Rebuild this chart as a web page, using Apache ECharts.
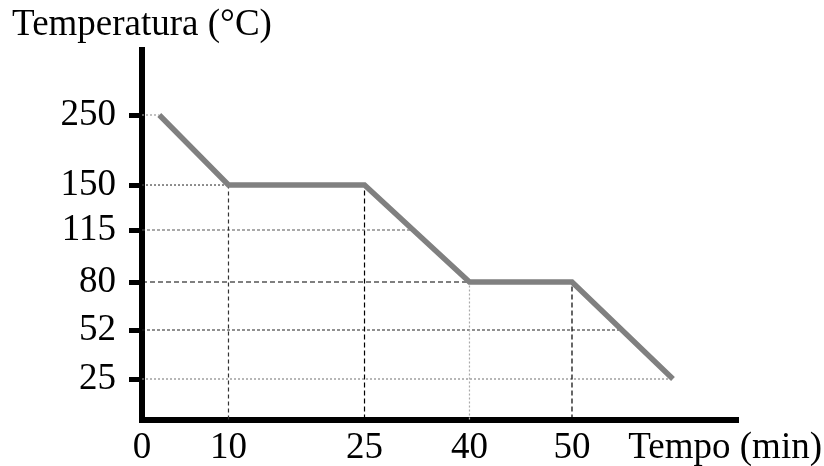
<!DOCTYPE html>
<html><head><meta charset="utf-8">
<script src="https://cdn.jsdelivr.net/npm/echarts@6/dist/echarts.min.js"></script>
<style>html,body{margin:0;padding:0;background:#fff}#c{width:824px;height:466px}</style>
</head><body><div id="c"></div>
<script>
// ---- data ----
const timeTicks = [0, 10, 25, 40, 50];
const tempTicks = [25, 52, 80, 115, 150, 250];
const curveTime = [2, 10, 25, 40, 50, 60];
const curveTemp = [250, 150, 150, 80, 80, 25];
const hGuideTemps = [250, 150, 115, 80, 52, 25];
const vGuideTimes = [10, 25, 40, 50];

// ---- schematic (piecewise) axis scales: value -> fraction of axis length ----
const timeScale = { domain: [0, 10, 25, 40, 50, 60], range: [0, 0.1456, 0.3746, 0.5513, 0.7239, 0.8939] };
const tempScale = { domain: [25, 52, 80, 115, 150, 250], range: [0.1096, 0.2422, 0.3721, 0.5129, 0.6346, 0.8241] };

// ---- styles ----
const hGuideStyles = [
  { color: '#999999', type: [2, 2] },
  { color: '#444444', type: [2, 2] },
  { color: '#555555', type: [3, 2] },
  { color: '#000000', type: [5, 3] },
  { color: '#222222', type: [3, 2] },
  { color: '#888888', type: [2, 2] }
];
const vGuideStyles = [
  { color: '#333333', type: [4, 3] },
  { color: '#000000', type: [5, 3] },
  { color: '#aaaaaa', type: [2, 2] },
  { color: '#000000', type: [5, 3] }
];
const FONT = 'Liberation Serif, Times New Roman, serif';
const FS = 37;

function piecewise(s, v) {
  const d = s.domain, r = s.range;
  let i = 0;
  while (i < d.length - 2 && v > d[i + 1]) i++;
  return r[i] + (v - d[i]) / (d[i + 1] - d[i]) * (r[i + 1] - r[i]);
}
const px = t => piecewise(timeScale, t);
const py = c => piecewise(tempScale, c);

const pts = curveTime.map((t, i) => [px(t), py(curveTemp[i])]);

function xOnCurve(y) {
  for (let i = 0; i < pts.length - 1; i++) {
    const a = pts[i], b = pts[i + 1];
    const lo = Math.min(a[1], b[1]) - 1e-9, hi = Math.max(a[1], b[1]) + 1e-9;
    if (y >= lo && y <= hi) {
      if (Math.abs(b[1] - a[1]) < 1e-9) return a[0];
      return a[0] + (y - a[1]) / (b[1] - a[1]) * (b[0] - a[0]);
    }
  }
  return pts[pts.length - 1][0];
}
function yOnCurve(x) {
  for (let i = 0; i < pts.length - 1; i++) {
    const a = pts[i], b = pts[i + 1];
    if (x >= a[0] - 1e-9 && x <= b[0] + 1e-9) {
      return a[1] + (x - a[0]) / (b[0] - a[0]) * (b[1] - a[1]);
    }
  }
  return pts[pts.length - 1][1];
}
function labelFor(ticks, fn, v) {
  let best = ticks[0], bd = Infinity;
  ticks.forEach(t => { const d = Math.abs(fn(t) - v); if (d < bd) { bd = d; best = t; } });
  return String(best);
}

const series = [];
hGuideTemps.forEach((c, i) => {
  const y = py(c);
  series.push({
    type: 'line', silent: true, symbol: 'none', z: 1, animation: false,
    data: [[0, y], [xOnCurve(y), y]],
    lineStyle: { width: 1.2, color: hGuideStyles[i].color, type: hGuideStyles[i].type }
  });
});
vGuideTimes.forEach((t, i) => {
  const x = px(t);
  series.push({
    type: 'line', silent: true, symbol: 'none', z: 1, animation: false,
    data: [[x, 0], [x, yOnCurve(x)]],
    lineStyle: { width: 1.2, color: vGuideStyles[i].color, type: vGuideStyles[i].type }
  });
});
series.push({
  type: 'line', symbol: 'none', z: 5, animation: false,
  data: pts,
  lineStyle: { width: 5.5, color: '#808080', join: 'miter', cap: 'butt' }
});

const chart = echarts.init(document.getElementById('c'), null, { renderer: 'canvas' });
chart.setOption({
  backgroundColor: '#ffffff',
  animation: false,
  grid: { left: 142, top: 50, right: 88, bottom: 46.5, containLabel: false, outerBoundsMode: 'none' },
  xAxis: {
    type: 'value', min: 0, max: 1,
    axisLine: { show: true, onZero: false, lineStyle: { color: '#000', width: 6, cap: 'square' } },
    axisTick: { show: false },
    splitLine: { show: false },
    axisLabel: {
      customValues: timeTicks.map(px),
      formatter: v => labelFor(timeTicks, px, v),
      color: '#000', fontFamily: FONT, fontSize: FS, margin: 10
    },
    name: 'Tempo (min)', nameLocation: 'end', nameGap: 86,
    nameTextStyle: { align: 'right', verticalAlign: 'top', color: '#000', fontFamily: FONT, fontSize: FS, padding: [10, 0, 0, 0] }
  },
  yAxis: {
    type: 'value', min: 0, max: 1,
    axisLine: { show: true, onZero: false, lineStyle: { color: '#000', width: 6, cap: 'square' } },
    axisTick: { show: true, customValues: tempTicks.map(py), length: 13, lineStyle: { color: '#000', width: 5 } },
    splitLine: { show: false },
    axisLabel: {
      customValues: tempTicks.map(py),
      formatter: v => labelFor(tempTicks, py, v),
      color: '#000', fontFamily: FONT, fontSize: FS, margin: 26
    },
    name: 'Temperatura (°C)', nameLocation: 'end', nameGap: 6,
    nameTextStyle: { color: '#000', fontFamily: FONT, fontSize: FS, align: 'center' }
  },
  series: series
});
</script></body></html>
